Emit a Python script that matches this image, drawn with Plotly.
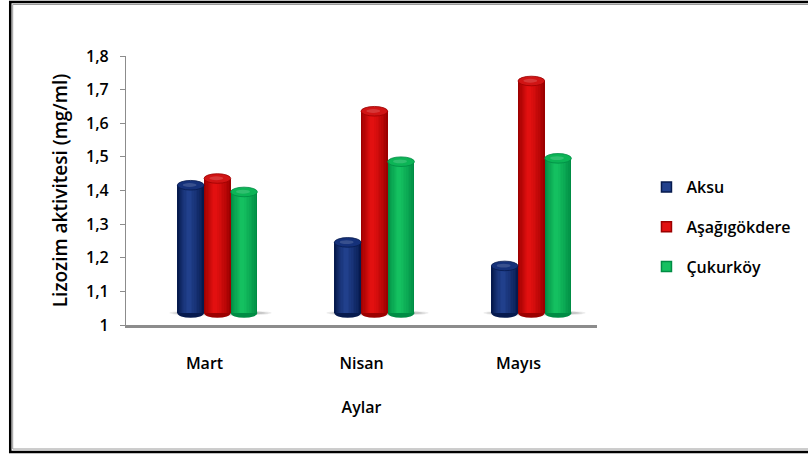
import plotly.graph_objects as go

# Monthly lysozyme activity (mg/ml) at three sampling sites
months = ["Mart", "Nisan", "Mayıs"]
sites = ["Aksu", "Aşağıgökdere", "Çukurköy"]
aksu = [1.38, 1.21, 1.14]
asagigokdere = [1.40, 1.60, 1.69]
cukurkoy = [1.36, 1.45, 1.46]
y_ticks = [1.0, 1.1, 1.2, 1.3, 1.4, 1.5, 1.6, 1.7, 1.8]
y_tick_text = ["1", "1,1", "1,2", "1,3", "1,4", "1,5", "1,6", "1,7", "1,8"]

series = [aksu, asagigokdere, cukurkoy]
# (edge, highlight, cap) colours for each cylinder
palette = [
    ("#061a4e", "#21408c", "#15317a"),
    ("#9c0000", "#e21010", "#d01414"),
    ("#008c44", "#14c060", "#0cb456"),
]

# figure geometry (pixels)
W, H = 808, 454
L, R, T, B = 126, 206, 56, 129
plot_w = W - L - R
plot_h = H - T - B
x_range = [-0.5, 2.5]
y_range = [1.0, 1.8]
ux = (x_range[1] - x_range[0]) / plot_w       # data units per px (x)
uy = (y_range[1] - y_range[0]) / plot_h       # data units per px (y)

# the cylinders sit on a floor pushed back in depth: shifted axes
depth_dx, depth_dy = 13, 12
x2_range = [x_range[0] - depth_dx * ux, x_range[1] - depth_dx * ux]
y2_range = [y_range[0] - depth_dy * uy, y_range[1] - depth_dy * uy]

bar_w = 0.17
offsets = [-bar_w, 0.0, bar_w]
cap_h = 4.8 * uy
n_layers = 9


def mix(c1, c2, t):
    a = [int(c1[i:i + 2], 16) for i in (1, 3, 5)]
    b = [int(c2[i:i + 2], 16) for i in (1, 3, 5)]
    return "#%02x%02x%02x" % tuple(round(a[i] + (b[i] - a[i]) * t) for i in range(3))


fig = go.Figure()
shapes = []

# soft floor shadows under each group
for i in range(len(months)):
    left = i + offsets[0] - bar_w / 2 - 0.05
    right = i + offsets[-1] + bar_w / 2 + 0.09
    for k, op in enumerate([0.10, 0.12, 0.16]):
        shrink = k * 0.02
        shapes.append(dict(type="circle", xref="x2", yref="y2", layer="below",
                           x0=left + shrink, x1=right - shrink,
                           y0=1 - (3 - k) * uy, y1=1 + (3 - k) * uy,
                           fillcolor=f"rgba(60,60,60,{op})", line_width=0))

for s, vals in enumerate(series):
    edge, hi, cap = palette[s]
    xs = [i + offsets[s] for i in range(len(months))]
    # cylinder body: stacked bars of decreasing width build the shading
    for k in range(n_layers):
        t = k / (n_layers - 1)
        w = bar_w * (1 - 0.85 * t)
        shift = -0.012 * t
        fig.add_trace(go.Bar(
            x=[x + shift for x in xs], y=[v - 1 for v in vals], base=1,
            width=w, marker=dict(color=mix(edge, hi, t ** 0.8), line_width=0),
            xaxis="x2", yaxis="y2", showlegend=False, hoverinfo="skip"))
    for x, v in zip(xs, vals):
        # rounded bottom
        shapes.append(dict(type="circle", xref="x2", yref="y2", layer="below",
                           x0=x - bar_w / 2, x1=x + bar_w / 2,
                           y0=1 - cap_h, y1=1 + cap_h,
                           fillcolor=edge, line_width=0))
        # top cap
        shapes.append(dict(type="circle", xref="x2", yref="y2", layer="above",
                           x0=x - bar_w / 2, x1=x + bar_w / 2,
                           y0=v - cap_h, y1=v + cap_h,
                           fillcolor=cap, line=dict(color=edge, width=0.8)))
        shapes.append(dict(type="circle", xref="x2", yref="y2", layer="above",
                           x0=x - bar_w * 0.3, x1=x + bar_w * 0.22,
                           y0=v - cap_h * 0.35, y1=v + cap_h * 0.45,
                           fillcolor=mix(cap, "#ffffff", 0.15), line_width=0))

# legend entries
for s, name in enumerate(sites):
    edge, hi, cap = palette[s]
    fig.add_trace(go.Scatter(
        x=[None], y=[None], mode="markers", name=name, legendgroup=name,
        marker=dict(symbol="square", size=10, color=hi,
                    line=dict(color=edge, width=1.5))))

# chart frame
def px_x(p):
    return (p - L) / plot_w


def px_y(p):
    return (H - B - p) / plot_h


shapes.append(dict(type="rect", xref="paper", yref="paper", layer="above",
                   x0=px_x(9), x1=px_x(W + 20), y0=px_y(2), y1=px_y(452),
                   line=dict(color="#000000", width=2.5)))
shapes.append(dict(type="rect", xref="paper", yref="paper", layer="above",
                   x0=px_x(11.5), x1=px_x(W + 20), y0=px_y(4.5), y1=px_y(449),
                   line=dict(color="#9a9a9a", width=1)))

font = dict(family="Open Sans", size=16, color="#000000", weight=600)
title_font = dict(family="Open Sans", size=19, color="#000000", weight=600)

fig.update_layout(
    width=W, height=H,
    margin=dict(l=L, r=R, t=T, b=B),
    paper_bgcolor="#ffffff", plot_bgcolor="rgba(0,0,0,0)",
    barmode="overlay", bargap=0,
    font=font,
    shapes=shapes,
    xaxis=dict(range=x_range, tickvals=list(range(len(months))), ticktext=months,
               showgrid=False, zeroline=False, showline=True,
               linecolor="#8c8c8c", linewidth=2.5, ticks="",
               ticklabelstandoff=22, tickfont=font,
               title=dict(text="Aylar", font=font, standoff=29)),
    yaxis=dict(range=y_range, tickvals=y_ticks, ticktext=y_tick_text,
               showgrid=False, zeroline=False, showline=True,
               linecolor="#8c8c8c", linewidth=1.2, ticks="outside",
               ticklen=5, tickcolor="#8c8c8c", ticklabelstandoff=8,
               tickfont=font,
               title=dict(text="Lizozim aktivitesi (mg/ml)", font=title_font,
                          standoff=13)),
    xaxis2=dict(range=x2_range, overlaying="x", visible=False),
    yaxis2=dict(range=y2_range, overlaying="y", visible=False),
    legend=dict(x=px_x(652), y=px_y(227), xanchor="left", yanchor="middle",
                font=font, tracegroupgap=16, bgcolor="rgba(0,0,0,0)"),
)

fig.write_html("out.html")
